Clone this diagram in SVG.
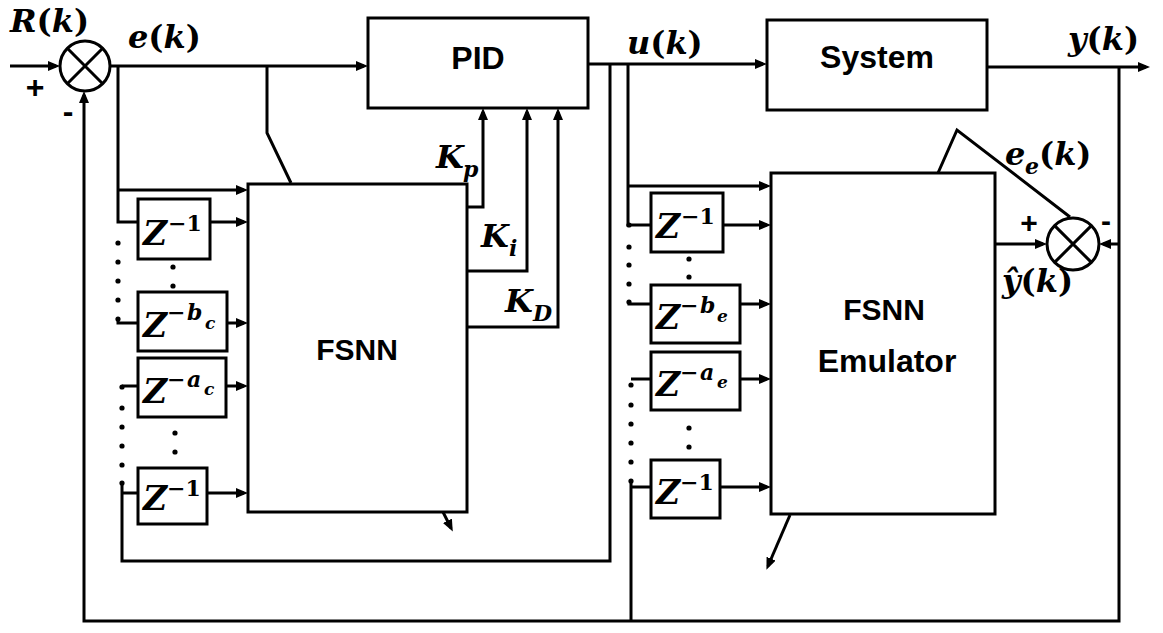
<svg xmlns="http://www.w3.org/2000/svg" width="1163" height="633" viewBox="0 0 1163 633">
<defs>
<marker id="ah" viewBox="0 0 12 10" refX="8" refY="5" markerWidth="12" markerHeight="10" markerUnits="userSpaceOnUse" orient="auto">
<path d="M0,0 L12,5 L0,10 z" fill="#000"/>
</marker>
</defs>
<style>
.ln{fill:none;stroke:#000;stroke-width:3}
.ar{fill:none;stroke:#000;stroke-width:3;marker-end:url(#ah)}
.bx{fill:#fff;stroke:#000;stroke-width:3}
.sj{fill:#fff;stroke:#000;stroke-width:3}
.lbl{font-family:"Liberation Sans",Arial,sans-serif;font-weight:bold;fill:#000}
.m{font-family:"DejaVu Serif","Liberation Serif",serif;font-weight:bold;font-style:italic;fill:#000}
.up{font-style:normal}
.z{font-size:33px}
.sp{font-size:22px}
.sb{font-size:17px}
.dot{fill:#000}
</style>
<rect width="1163" height="633" fill="#fff"/>

<g id="connectors">
<path class="ar" d="M10,66 H56"/>
<path class="ar" d="M110,66 H364"/>
<path class="ln" d="M118,66 V222 H138"/>
<path class="ar" d="M118,190 H244"/>
<path class="ln" d="M267,66 V133 L291,183"/>
<path class="ar" d="M210,222 H244"/>
<path class="ln" d="M118,319 V323 H138"/>
<path class="ar" d="M227,323 H244"/>
<path class="ln" d="M122,386 H138"/>
<path class="ar" d="M226,386 H244"/>
<path class="ln" d="M122,483 V561 H610 V64"/>
<path class="ln" d="M122,493 H138"/>
<path class="ar" d="M207,493 H244"/>
<path class="ar" d="M443,512 L451,528"/>
<path class="ar" d="M467,207 H483 V112"/>
<path class="ar" d="M467,271 H527 V112"/>
<path class="ar" d="M467,327 H558 V112"/>
<path class="ar" d="M588,64 H763"/>
<path class="ln" d="M628,64 V225 H651"/>
<path class="ar" d="M628,186 H767"/>
<path class="ar" d="M723,225 H767"/>
<path class="ln" d="M629,301 V304 H651"/>
<path class="ar" d="M740,304 H767"/>
<path class="ln" d="M631,379 H651"/>
<path class="ar" d="M740,379 H767"/>
<path class="ln" d="M631,481 V621"/>
<path class="ln" d="M631,487 H651"/>
<path class="ar" d="M720,487 H767"/>
<path class="ar" d="M790,515 L768,566"/>
<path class="ar" d="M987,67 H1146"/>
<path class="ar" d="M1119,67 V621 H84 V95"/>
<path class="ar" d="M1119,244 H1103"/>
<path class="ar" d="M995,244 H1043"/>
<path class="ln" d="M938,173 L957,130 L1070,217"/>
<g id="dots">
<circle class="dot" cx="118" cy="243" r="2.6"/>
<circle class="dot" cx="118" cy="262" r="2.6"/>
<circle class="dot" cx="118" cy="281" r="2.6"/>
<circle class="dot" cx="118" cy="300" r="2.6"/>
<circle class="dot" cx="118" cy="319" r="2.6"/>
<circle class="dot" cx="173" cy="267" r="2.6"/>
<circle class="dot" cx="173" cy="286" r="2.6"/>
<circle class="dot" cx="122" cy="387" r="2.6"/>
<circle class="dot" cx="122" cy="408" r="2.6"/>
<circle class="dot" cx="122" cy="427" r="2.6"/>
<circle class="dot" cx="122" cy="446" r="2.6"/>
<circle class="dot" cx="122" cy="465" r="2.6"/>
<circle class="dot" cx="122" cy="483" r="2.6"/>
<circle class="dot" cx="175" cy="433" r="2.6"/>
<circle class="dot" cx="175" cy="452" r="2.6"/>
<circle class="dot" cx="629" cy="225" r="2.6"/>
<circle class="dot" cx="629" cy="247" r="2.6"/>
<circle class="dot" cx="629" cy="265" r="2.6"/>
<circle class="dot" cx="629" cy="284" r="2.6"/>
<circle class="dot" cx="629" cy="302" r="2.6"/>
<circle class="dot" cx="689" cy="259" r="2.6"/>
<circle class="dot" cx="689" cy="277" r="2.6"/>
<circle class="dot" cx="631" cy="385" r="2.6"/>
<circle class="dot" cx="631" cy="405" r="2.6"/>
<circle class="dot" cx="631" cy="424" r="2.6"/>
<circle class="dot" cx="631" cy="443" r="2.6"/>
<circle class="dot" cx="631" cy="462" r="2.6"/>
<circle class="dot" cx="631" cy="481" r="2.6"/>
<circle class="dot" cx="689" cy="428" r="2.6"/>
<circle class="dot" cx="689" cy="447" r="2.6"/>
</g>
</g>

<g id="sum1">
<circle class="sj" cx="85" cy="66" r="25"/>
<path class="ln" d="M67.3,48.3 L102.7,83.7 M102.7,48.3 L67.3,83.7"/>
</g>
<g id="sum2">
<circle class="sj" cx="1073" cy="244" r="26"/>
<path class="ln" d="M1054.6,225.6 L1091.4,262.4 M1091.4,225.6 L1054.6,262.4"/>
</g>

<g id="pid">
<rect class="bx" x="368" y="18" width="220" height="90"/>
<text class="lbl" x="478" y="69" font-size="32" text-anchor="middle">PID</text>
</g>
<g id="system">
<rect class="bx" x="767" y="20" width="220" height="90"/>
<text class="lbl" x="877" y="68" font-size="32" text-anchor="middle">System</text>
</g>
<g id="fsnn">
<rect class="bx" x="248" y="184" width="219" height="328"/>
<text class="lbl" x="357" y="360" font-size="30" text-anchor="middle">FSNN</text>
</g>
<g id="emulator">
<rect class="bx" x="771" y="173" width="224" height="341"/>
<text class="lbl" x="884" y="320" font-size="30" text-anchor="middle">FSNN</text>
<text class="lbl" x="887" y="372" font-size="32" text-anchor="middle">Emulator</text>
</g>

<g id="zc1">
<rect class="bx" x="138" y="199" width="72" height="60"/>
<text class="m z" x="143" y="245">Z</text>
<text class="m sp up" x="168" y="231">−1</text>
</g>
<g id="zcb">
<rect class="bx" x="138" y="292" width="89" height="59"/>
<text class="m z" x="143" y="337">Z</text>
<text class="m sp up" x="167" y="320">−</text>
<text class="m sp" x="187" y="320">b</text>
<text class="m sb" x="205" y="329">c</text>
</g>
<g id="zca">
<rect class="bx" x="138" y="358" width="88" height="59"/>
<text class="m z" x="143" y="403">Z</text>
<text class="m sp up" x="167" y="387">−</text>
<text class="m sp" x="187" y="387">a</text>
<text class="m sb" x="204" y="395">c</text>
</g>
<g id="zc2">
<rect class="bx" x="138" y="468" width="69" height="56"/>
<text class="m z" x="143" y="510">Z</text>
<text class="m sp up" x="167" y="496">−1</text>
</g>

<g id="ze1">
<rect class="bx" x="651" y="193" width="72" height="59"/>
<text class="m z" x="656" y="238">Z</text>
<text class="m sp up" x="681" y="224">−1</text>
</g>
<g id="zeb">
<rect class="bx" x="651" y="285" width="89" height="58"/>
<text class="m z" x="656" y="329">Z</text>
<text class="m sp up" x="680" y="313">−</text>
<text class="m sp" x="700" y="313">b</text>
<text class="m sb" x="717" y="322">e</text>
</g>
<g id="zea">
<rect class="bx" x="651" y="352" width="89" height="58"/>
<text class="m z" x="656" y="396">Z</text>
<text class="m sp up" x="680" y="380">−</text>
<text class="m sp" x="700" y="380">a</text>
<text class="m sb" x="717" y="388">e</text>
</g>
<g id="ze2">
<rect class="bx" x="651" y="460" width="69" height="58"/>
<text class="m z" x="656" y="504">Z</text>
<text class="m sp up" x="680" y="490">−1</text>
</g>

<g id="labels">
<text class="m" x="10" y="32" font-size="32">R<tspan class="up">(</tspan>k<tspan class="up">)</tspan></text>
<text class="m" x="128" y="48" font-size="32">e<tspan class="up">(</tspan>k<tspan class="up">)</tspan></text>
<text class="m" x="627" y="54" font-size="32">u<tspan class="up">(</tspan>k<tspan class="up">)</tspan></text>
<text class="m" x="1068" y="50" font-size="32">y<tspan class="up">(</tspan>k<tspan class="up">)</tspan></text>
<text class="lbl" x="35" y="98" font-size="32" text-anchor="middle">+</text>
<text class="lbl" x="68" y="122" font-size="32" text-anchor="middle">-</text>
<text class="m" x="436" y="168" font-size="32">K</text>
<text class="m" x="463" y="177" font-size="22">p</text>
<text class="m" x="481" y="247" font-size="32">K</text>
<text class="m" x="509" y="256" font-size="22">i</text>
<text class="m" x="505" y="312" font-size="32">K</text>
<text class="m" x="533" y="321" font-size="22">D</text>
<text class="m" x="1005" y="165" font-size="32">e</text>
<text class="m" x="1025" y="174" font-size="22">e</text>
<text class="m" x="1039" y="165" font-size="32"><tspan class="up">(</tspan>k<tspan class="up">)</tspan></text>
<text class="m" x="1002" y="292" font-size="32">ŷ<tspan class="up">(</tspan>k<tspan class="up">)</tspan></text>
<text class="lbl" x="1029" y="233" font-size="30" text-anchor="middle">+</text>
<text class="lbl" x="1106" y="231" font-size="30" text-anchor="middle">-</text>
</g>
</svg>
